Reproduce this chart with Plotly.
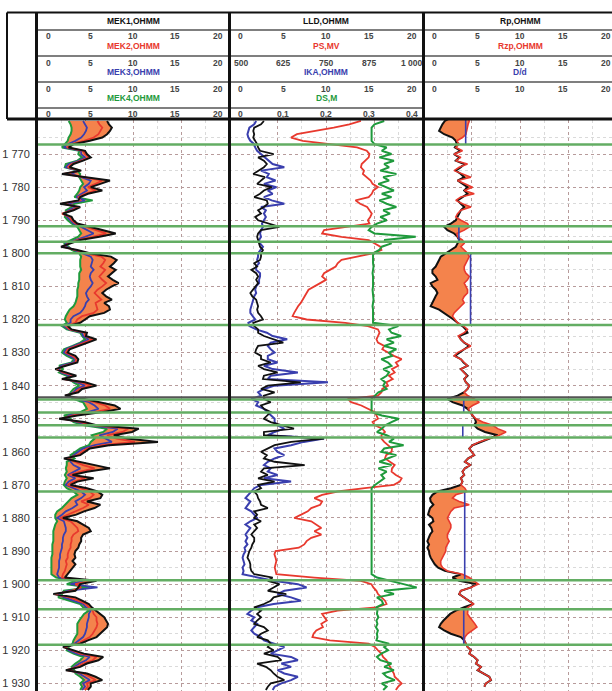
import plotly.graph_objects as go

W, H = 612, 691

# ---------------- DATA ----------------
depth = list(range(1760, 1933))          # tracks 1 and 2, 1 m step
depth_t3 = list(range(1759, 1932))       # track 3 readings

# Track 1 (0-20 OHMM)
mek4 = [3.3, 3.5, 3.6, 3.6, 3.5, 3.3, 3.2, 2.9, 2.6, 4.4,
        4.3, 4.7, 4.2, 3.0, 2.9, 4.2, 4.5, 4.4, 4.6, 4.8,
        4.5, 4.4, 4.2, 3.9, 5.8, 3.9, 3.6, 3.0, 3.0, 2.9,
        3.2, 3.6, 4.2, 4.4, 4.6, 4.3, 3.6, 2.8, 3.3, 3.6,
        4.4, 4.6, 4.5, 4.5, 4.5, 4.6, 4.4, 4.4, 4.4, 4.3,
        4.3, 4.2, 4.2, 4.2, 4.1, 4.0, 3.8, 3.4, 3.2, 3.0,
        2.9, 3.1, 2.6, 3.1, 4.5, 4.7, 5.0, 4.5, 3.7, 2.8,
        2.6, 3.1, 3.8, 3.6, 2.3, 2.7, 2.3, 3.1, 3.4, 3.8,
        4.4, 3.8, 3.5, 3.3, 3.8, 4.8, 5.0, 5.2, 4.5, 2.8,
        3.5, 3.8, 4.9, 7.3, 6.9, 5.7, 6.0, 5.6, 5.4, 4.5,
        4.0, 3.5, 3.9, 3.1, 3.1, 3.0, 3.1, 2.9, 3.1, 2.9,
        2.8, 3.1, 3.8, 4.2, 3.6, 3.3, 3.0, 2.6, 2.1, 1.9,
        1.9, 2.1, 1.9, 1.8, 1.7, 1.7, 1.7, 1.7, 1.6, 1.6,
        1.6, 1.6, 1.5, 1.5, 1.5, 1.5, 1.5, 1.5, 2.0, 4.0,
        3.1, 5.5, 2.8, 2.6, 2.2, 3.5, 4.5, 4.8, 5.4, 4.9,
        4.6, 4.4, 4.2, 4.2, 4.2, 4.2, 4.0, 3.8, 3.7, 3.3,
        3.1, 3.8, 4.8, 4.5, 4.0, 3.6, 3.9, 4.0, 4.5, 4.9,
        4.5, 4.7, 4.5]
mek3 = [4.8, 5.0, 5.2, 5.1, 4.9, 4.6, 4.0, 3.2, 2.8, 4.6,
        4.6, 5.0, 4.4, 3.3, 3.0, 4.3, 3.6, 4.6, 5.6, 5.4,
        4.9, 5.2, 4.6, 4.1, 5.0, 3.2, 4.0, 3.3, 2.8, 3.1,
        3.4, 3.8, 4.6, 5.3, 5.9, 5.0, 3.9, 3.0, 3.0, 3.8,
        4.7, 5.6, 5.8, 5.7, 5.6, 5.9, 5.6, 5.5, 5.6, 5.8,
        5.6, 5.3, 5.1, 5.2, 5.4, 5.1, 5.0, 4.8, 4.5, 3.8,
        3.5, 3.5, 2.8, 3.3, 4.7, 4.8, 5.4, 4.7, 3.9, 3.0,
        2.8, 3.4, 4.0, 3.8, 2.5, 2.3, 2.5, 3.4, 3.0, 4.2,
        5.0, 4.1, 3.8, 3.1, 4.1, 5.4, 6.0, 6.4, 5.3, 3.3,
        3.0, 4.2, 5.4, 8.4, 7.9, 6.5, 7.2, 7.8, 6.0, 4.8,
        4.3, 3.8, 3.4, 3.5, 3.8, 4.5, 3.8, 3.2, 4.0, 3.3,
        3.0, 3.8, 4.6, 5.0, 4.6, 4.0, 4.2, 3.7, 3.0, 2.6,
        2.1, 2.8, 2.9, 3.0, 3.0, 2.8, 2.7, 2.7, 2.6, 2.6,
        2.5, 2.4, 2.4, 2.3, 2.3, 2.3, 2.2, 2.1, 2.3, 4.8,
        3.5, 6.3, 3.2, 2.2, 2.8, 3.9, 4.8, 5.1, 5.6, 5.4,
        5.4, 5.3, 5.2, 5.2, 5.1, 5.0, 4.8, 4.3, 3.9, 3.0,
        3.3, 4.1, 5.5, 5.1, 4.4, 3.9, 3.4, 4.4, 5.0, 5.5,
        4.8, 5.0, 4.7]
mek2 = [6.3, 6.5, 6.8, 6.6, 6.4, 5.9, 4.9, 3.6, 3.1, 4.8,
        5.0, 5.4, 4.6, 3.6, 3.2, 4.5, 2.8, 4.9, 6.8, 6.1,
        5.3, 6.1, 5.0, 4.3, 4.5, 2.6, 4.3, 3.6, 2.6, 3.4,
        3.6, 4.0, 5.0, 6.2, 7.2, 5.8, 4.2, 3.3, 2.7, 4.0,
        5.1, 6.7, 7.1, 6.9, 6.6, 7.1, 6.8, 6.5, 6.8, 7.2,
        6.8, 6.3, 6.0, 6.3, 6.7, 6.1, 6.2, 6.3, 5.9, 4.7,
        4.2, 4.0, 3.0, 3.4, 5.0, 5.0, 5.8, 5.0, 4.2, 3.2,
        3.0, 3.7, 4.1, 4.0, 2.8, 2.1, 2.7, 3.8, 2.8, 4.6,
        5.6, 4.4, 4.0, 3.0, 4.5, 6.0, 7.1, 7.6, 6.0, 3.7,
        2.6, 4.5, 5.9, 9.5, 8.9, 7.3, 8.3, 10.2, 6.8, 5.2,
        4.7, 4.2, 3.1, 4.0, 4.8, 6.0, 4.5, 3.4, 5.0, 3.8,
        3.2, 4.5, 5.5, 5.9, 5.5, 4.6, 5.4, 4.8, 4.0, 3.3,
        2.4, 3.5, 3.9, 4.2, 4.3, 3.8, 3.6, 3.6, 3.5, 3.5,
        3.3, 3.2, 3.2, 3.0, 3.1, 3.0, 2.9, 2.7, 2.6, 5.5,
        4.0, 4.6, 3.6, 1.9, 3.4, 4.3, 5.1, 5.4, 5.8, 5.9,
        6.2, 6.2, 6.3, 6.2, 6.0, 5.8, 5.5, 4.8, 4.2, 2.8,
        3.6, 4.5, 6.2, 5.8, 4.8, 4.2, 3.1, 4.8, 5.5, 6.1,
        5.2, 5.3, 5.0]
mek1 = [7.3, 7.5, 7.8, 7.6, 7.3, 6.8, 5.5, 3.8, 3.3, 5.0,
        5.2, 5.6, 4.8, 3.8, 3.4, 4.6, 2.6, 5.2, 7.6, 6.6,
        5.6, 6.8, 5.3, 4.5, 4.3, 2.4, 4.5, 3.8, 2.7, 3.6,
        3.8, 4.2, 5.5, 7.0, 8.2, 6.5, 4.5, 3.5, 2.5, 4.2,
        5.5, 7.7, 8.3, 8.0, 7.6, 8.2, 7.8, 7.4, 7.9, 8.5,
        7.8, 7.2, 6.8, 7.2, 7.8, 7.0, 7.5, 7.6, 7.0, 5.5,
        5.0, 4.5, 3.2, 3.6, 5.2, 5.1, 6.2, 5.2, 4.4, 3.4,
        3.2, 4.0, 4.3, 4.2, 3.0, 1.9, 3.0, 4.1, 2.6, 5.0,
        6.2, 4.7, 4.3, 2.9, 4.9, 6.6, 8.1, 8.7, 6.8, 4.2,
        2.3, 4.9, 6.3, 10.6, 9.9, 8.0, 9.4, 12.6, 7.5, 5.5,
        5.0, 4.5, 2.8, 4.5, 5.9, 7.6, 5.2, 3.7, 5.9, 4.2,
        3.5, 5.2, 6.3, 6.8, 6.6, 5.2, 6.6, 6.0, 4.9, 4.1,
        2.7, 4.2, 4.8, 5.4, 5.6, 4.8, 4.6, 4.6, 4.4, 4.3,
        4.0, 3.9, 4.0, 3.7, 4.0, 3.7, 3.5, 3.2, 2.9, 6.2,
        4.5, 4.3, 4.0, 1.7, 4.0, 4.7, 5.4, 5.7, 6.1, 6.5,
        7.0, 7.2, 7.4, 7.3, 6.9, 6.5, 6.2, 5.3, 4.5, 2.7,
        3.8, 4.9, 6.9, 6.4, 5.2, 4.5, 3.0, 5.2, 6.1, 6.8,
        5.6, 5.6, 5.3]

# Track 2
lld = [3.6, 3.3, 2.6, 2.5, 2.6, 2.5, 2.7, 2.9, 3.0, 3.2,
       4.6, 3.0, 3.6, 3.9, 3.6, 3.0, 2.5, 3.7, 3.3, 2.9,
       4.4, 3.6, 3.2, 2.6, 3.9, 4.0, 3.6, 3.0, 3.3, 2.7,
       3.0, 4.2, 5.2, 3.3, 3.0, 2.9, 3.0, 3.1, 3.2, 3.5,
       3.3, 3.3, 3.2, 2.6, 2.9, 2.3, 2.8, 3.0, 2.8, 3.0,
       2.7, 2.4, 2.2, 2.4, 2.8, 2.9, 3.0, 2.9, 3.0, 3.3,
       3.5, 2.5, 2.6, 3.0, 3.0, 3.6, 4.7, 5.6, 3.0, 2.8,
       2.7, 3.3, 3.3, 4.3, 3.0, 3.6, 5.0, 3.6, 3.5, 7.4,
       4.0, 3.3, 4.7, 3.6, 3.6, 4.3, 3.3, 3.6, 4.3, 4.0,
       3.6, 4.3, 5.6, 6.7, 3.6, 3.6, 9.8, 6.4, 4.7, 4.0,
       3.3, 3.9, 3.6, 4.7, 7.8, 3.6, 3.3, 4.0, 3.0, 4.7,
       3.0, 3.3, 2.6, 2.9, 3.0, 3.2, 3.3, 4.0, 2.6, 2.9,
       2.6, 3.3, 2.6, 2.9, 2.6, 2.3, 2.6, 2.6, 2.4, 2.3,
       2.1, 2.0, 1.9, 2.1, 2.2, 2.2, 2.3, 2.6, 4.5, 4.0,
       5.2, 4.6, 4.0, 5.9, 4.6, 4.3, 3.6, 2.6, 3.3, 2.9,
       3.3, 2.9, 2.6, 3.6, 4.0, 3.3, 2.9, 4.0, 4.3, 4.0,
       4.6, 3.6, 5.0, 5.4, 2.9, 3.8, 4.3, 4.6, 5.0, 5.7,
       4.3, 4.0, 3.8]
ika = [2.8, 2.6, 2.1, 2.0, 1.9, 2.0, 2.2, 2.6, 2.7, 2.9,
       3.3, 3.8, 4.1, 4.5, 5.7, 3.3, 4.1, 3.9, 4.8, 3.6,
       4.9, 4.0, 4.5, 3.6, 4.4, 5.7, 3.3, 3.8, 3.6, 3.8,
       3.6, 3.4, 3.5, 3.3, 3.2, 3.3, 3.1, 3.2, 3.5, 3.2,
       3.0, 3.0, 2.9, 3.1, 2.8, 2.8, 3.2, 3.2, 3.1, 3.1,
       2.8, 2.7, 2.8, 2.6, 2.5, 2.4, 2.3, 2.2, 2.2, 2.5,
       2.7, 2.0, 2.1, 2.8, 3.9, 4.5, 6.0, 4.3, 4.0, 4.3,
       4.7, 4.0, 4.0, 5.0, 3.6, 4.5, 7.1, 4.3, 4.0, 10.2,
       4.7, 3.6, 3.0, 3.3, 2.3, 3.0, 2.8, 3.6, 4.0, 4.3,
       4.7, 4.7, 5.0, 5.7, 4.7, 4.0, 9.8, 7.7, 6.4, 4.7,
       5.0, 5.7, 4.7, 4.0, 3.6, 4.3, 4.0, 5.0, 3.6, 6.4,
       3.3, 2.6, 2.3, 1.9, 1.7, 2.2, 1.9, 1.7, 2.3, 2.6,
       2.9, 2.2, 1.7, 2.2, 1.9, 1.7, 1.9, 1.7, 1.9, 1.6,
       1.7, 1.5, 1.4, 1.5, 1.6, 1.4, 1.5, 1.4, 2.9, 4.6,
       7.1, 8.0, 5.7, 5.0, 6.4, 7.4, 4.6, 2.9, 2.3, 1.9,
       2.6, 2.3, 2.9, 2.6, 2.3, 2.6, 3.3, 3.6, 4.7, 5.7,
       5.0, 4.3, 6.4, 7.1, 5.4, 6.4, 5.0, 5.7, 7.1, 6.4,
       5.4, 4.7, 4.5]
ps = [840, 810, 770, 720, 675, 660, 690, 760, 830, 855,
      862, 860, 850, 842, 840, 848, 845, 855, 865, 870,
      884, 872, 868, 860, 826, 838, 856, 862, 868, 864,
      858, 862, 800, 745, 740, 790, 860, 875, 890, 893,
      870, 830, 790, 780, 775, 760, 745, 740, 750, 735,
      720, 705, 700, 695, 692, 685, 678, 672, 668, 664,
      700, 800, 858, 884, 888, 884, 880, 884, 900, 895,
      910, 925, 945, 930, 936, 920, 927, 912, 922, 905,
      910, 895, 893, 884, 806, 815, 841, 858, 876, 880,
      884, 870, 876, 895, 902, 893, 893, 900, 910, 920,
      919, 905, 902, 915, 927, 920, 919, 930, 945, 940,
      925, 850, 780, 740, 720, 740, 735, 712, 703, 686,
      668, 712, 725, 738, 720, 738, 712, 700, 694, 680,
      620, 617, 620, 622, 620, 618, 620, 622, 720, 840,
      867, 872, 880, 884, 893, 902, 906, 880, 780, 740,
      746, 752, 738, 742, 725, 718, 715, 760, 860, 876,
      884, 893, 897, 906, 910, 915, 919, 925, 927, 936,
      945, 936, 930]
ds = [0.320, 0.300, 0.294, 0.294, 0.294, 0.294, 0.294, 0.300, 0.325, 0.315,
      0.335, 0.310, 0.340, 0.320, 0.330, 0.312, 0.345, 0.318, 0.330, 0.308,
      0.325, 0.340, 0.315, 0.335, 0.310, 0.325, 0.345, 0.318, 0.332, 0.312,
      0.325, 0.305, 0.294, 0.288, 0.300, 0.385, 0.320, 0.335, 0.315, 0.310,
      0.297, 0.297, 0.296, 0.297, 0.298, 0.297, 0.296, 0.297, 0.297, 0.298,
      0.297, 0.296, 0.297, 0.297, 0.298, 0.297, 0.296, 0.297, 0.297, 0.297,
      0.297, 0.297, 0.349, 0.330, 0.335, 0.355, 0.325, 0.340, 0.320, 0.345,
      0.330, 0.336, 0.314, 0.328, 0.335, 0.318, 0.330, 0.325, 0.314, 0.322,
      0.318, 0.325, 0.308, 0.301, 0.294, 0.294, 0.294, 0.294, 0.294, 0.315,
      0.350, 0.335, 0.322, 0.315, 0.305, 0.325, 0.340, 0.330, 0.360, 0.320,
      0.314, 0.345, 0.328, 0.310, 0.335, 0.308, 0.325, 0.314, 0.320, 0.310,
      0.301, 0.294, 0.294, 0.294, 0.294, 0.294, 0.294, 0.294, 0.294, 0.294,
      0.294, 0.294, 0.294, 0.294, 0.294, 0.294, 0.294, 0.294, 0.294, 0.294,
      0.294, 0.294, 0.294, 0.294, 0.294, 0.294, 0.294, 0.294, 0.305, 0.335,
      0.360, 0.387, 0.320, 0.340, 0.305, 0.315, 0.318, 0.304, 0.306, 0.305,
      0.308, 0.304, 0.306, 0.303, 0.307, 0.305, 0.306, 0.304, 0.330, 0.320,
      0.328, 0.314, 0.305, 0.312, 0.335, 0.320, 0.340, 0.318, 0.325, 0.342,
      0.315, 0.325, 0.318]

# Track 3
rp = [2.87, 2.25, 2.00, 1.83, 1.66, 2.18, 3.04, 3.38, 3.49, 3.28,
      3.90, 3.21, 3.73, 3.38, 4.25, 3.90, 3.38, 3.90, 4.25, 3.56,
      4.07, 4.59, 4.25, 4.59, 4.07, 3.56, 3.90, 4.25, 3.90, 3.73,
      3.56, 3.38, 2.87, 2.18, 2.52, 3.21, 3.56, 3.73, 3.56, 3.38,
      2.87, 2.35, 1.83, 1.66, 1.49, 1.31, 0.97, 0.97, 1.31, 1.49,
      0.79, 0.97, 1.31, 1.49, 1.30, 1.14, 0.97, 0.79, 1.66, 2.18,
      2.70, 3.14, 3.56, 4.07, 4.42, 4.59, 3.73, 3.90, 4.25, 4.77,
      4.25, 3.73, 3.28, 3.90, 4.18, 4.59, 3.90, 4.25, 4.59, 4.25,
      4.42, 4.77, 4.59, 4.25, 3.56, 2.52, 3.04, 4.07, 4.59, 4.87,
      5.11, 5.35, 5.46, 5.28, 5.63, 6.39, 7.70, 6.84, 5.80, 5.11,
      4.77, 5.01, 5.28, 4.65, 4.32, 4.87, 4.32, 4.07, 4.25, 3.90,
      4.07, 3.90, 2.87, 1.49, 0.97, 0.73, 0.79, 1.07, 0.73, 0.62,
      0.52, 0.97, 1.07, 0.62, 0.86, 0.97, 0.73, 0.59, 0.45, 0.62,
      0.45, 0.62, 0.66, 0.79, 0.97, 1.21, 1.56, 2.25, 3.90, 3.04,
      3.73, 5.46, 4.94, 3.90, 3.73, 4.25, 4.77, 5.21, 4.25, 3.38,
      2.80, 2.42, 2.11, 1.83, 1.66, 2.18, 2.87, 3.90, 4.25, 4.42,
      4.59, 4.94, 4.77, 5.28, 5.63, 5.46, 5.98, 5.63, 6.32, 6.84,
      7.01, 6.49, 6.32]
rzp = [4.59, 4.77, 4.65, 4.59, 4.52, 4.42, 4.07, 3.49, 3.73, 3.38,
       4.07, 3.21, 3.90, 3.38, 4.59, 3.73, 3.21, 4.07, 4.94, 3.56,
       4.25, 5.11, 4.25, 5.28, 3.90, 3.38, 4.07, 4.94, 3.90, 3.56,
       3.38, 3.90, 4.59, 4.77, 4.25, 3.49, 3.56, 4.07, 4.25, 3.90,
       4.25, 4.59, 4.77, 4.59, 4.42, 4.25, 4.25, 4.42, 4.77, 4.59,
       4.25, 4.42, 4.59, 4.59, 4.25, 4.07, 4.25, 3.90, 3.56, 3.21,
       3.04, 3.28, 3.56, 4.18, 4.59, 4.25, 3.63, 3.90, 4.25, 4.94,
       4.25, 3.56, 3.21, 3.90, 4.25, 4.59, 3.90, 4.25, 4.52, 4.25,
       4.42, 4.77, 4.59, 4.25, 4.59, 5.28, 5.80, 5.11, 4.65, 4.87,
       5.11, 5.46, 6.15, 7.18, 7.70, 8.56, 7.87, 6.84, 5.80, 5.11,
       4.77, 5.01, 5.28, 4.65, 4.32, 4.87, 4.32, 4.07, 4.25, 3.90,
       4.07, 3.90, 4.32, 4.52, 3.38, 3.04, 3.73, 4.77, 3.21, 2.87,
       2.70, 2.52, 2.70, 2.87, 2.87, 2.70, 2.52, 2.52, 2.70, 2.52,
       2.35, 2.35, 2.18, 2.01, 1.83, 1.83, 2.01, 2.52, 4.07, 4.77,
       5.28, 5.70, 4.94, 3.90, 3.73, 4.25, 4.77, 5.21, 4.65, 4.59,
       4.59, 4.83, 5.11, 5.35, 5.56, 5.01, 4.59, 4.32, 4.25, 4.42,
       4.59, 4.94, 4.77, 5.28, 5.63, 5.46, 5.98, 5.63, 6.32, 6.84,
       7.01, 6.49, 6.32]
dd_top = [1759.7, 1791.8, 1800.0, 1844.2, 1852.0, 1872.0, 1907.6]
dd_base = [1767.1, 1796.5, 1821.7, 1848.1, 1855.7, 1898.8, 1918.3]
dd_value = [4.4, 3.7, 4.9, 4.2, 4.1, 4.3, 4.2]

# formation boundaries
boundaries = [1767.1, 1791.8, 1796.5, 1800.0, 1821.7, 1844.2, 1848.1,
              1852.0, 1855.7, 1872.0, 1898.8, 1907.6, 1918.3]
dark_boundaries = [1843.5]

depth_ticks = [1770, 1780, 1790, 1800, 1810, 1820, 1830, 1840, 1850,
               1860, 1870, 1880, 1890, 1900, 1910, 1920, 1930]
scale_0_20 = ["0", "5", "10", "15", "20"]
scale_ps = ["500", "625", "750", "875", "1 000"]
scale_ds = ["0", "0,1", "0,2", "0,3", "0,4"]

# ---------------- STYLE ----------------
BLACK = "#111111"
RED = "#e8392e"
BLUE = "#3a3fae"
GREEN = "#1f9a3c"
ORANGE = "#f4834c"
BOUND = "#63ad63"
DOT = "#b79b9b"
MINOR = "#dadada"
FONT = "Liberation Sans"

T_TOP = 120  # px, top of log area
tracks = [(37, 229), (229, 423), (423, 617)]


def px(x):
    return x / W


def py(y):
    return 1 - y / H


fig = go.Figure()


def line(x, y, xa, color, width):
    fig.add_trace(go.Scatter(x=x, y=y, xaxis=xa, yaxis="y", mode="lines",
                             line=dict(color=color, width=width),
                             showlegend=False, hoverinfo="skip"))


def fill_pair(xl, xr, y, xa):
    fig.add_trace(go.Scatter(x=xl, y=y, xaxis=xa, yaxis="y", mode="lines",
                             line=dict(width=0, color="rgba(0,0,0,0)"),
                             showlegend=False, hoverinfo="skip"))
    fig.add_trace(go.Scatter(x=xr, y=y, xaxis=xa, yaxis="y", mode="lines",
                             line=dict(width=0, color="rgba(0,0,0,0)"),
                             fill="tonextx", fillcolor=ORANGE,
                             showlegend=False, hoverinfo="skip"))


# Track 1
fill_pair(mek4, mek1, depth, "x")
line(mek4, depth, "x", GREEN, 2)
line(mek3, depth, "x", BLUE, 1.8)
line(mek2, depth, "x", RED, 1.8)
line(mek1, depth, "x", BLACK, 2)

# Track 2
line(ika, depth, "x2", BLUE, 2)
line(lld, depth, "x2", BLACK, 1.8)
line(ps, depth, "x4", RED, 1.8)
line(ds, depth, "x5", GREEN, 2)

# Track 3
fill_pair(rp, rzp, depth_t3, "x3")
line(rp, depth_t3, "x3", BLACK, 2)
line(rzp, depth_t3, "x3", RED, 1.6)
dd_x, dd_y = [], []
for t, b, v in zip(dd_top, dd_base, dd_value):
    dd_x += [v, v, None]
    dd_y += [t, b, None]
line(dd_x, dd_y, "x3", BLUE, 1.6)

grid_x = dict(showticklabels=False, ticks="", showline=False, zeroline=False,
              tick0=0, dtick=5, showgrid=True, gridcolor=DOT, griddash="dot",
              gridwidth=1,
              minor=dict(tick0=0, dtick=2.5, showgrid=True, gridcolor=MINOR,
                         gridwidth=1))

ydom = [0, py(T_TOP)]
fig.update_layout(
    width=W, height=H, margin=dict(l=0, r=0, t=0, b=0),
    paper_bgcolor="white", plot_bgcolor="white",
    separators=", ", showlegend=False,
    xaxis=dict(domain=[px(37), px(229)], range=[0, 20], anchor="y", **grid_x),
    xaxis2=dict(domain=[px(229), px(423)], range=[0, 20], anchor="y", **grid_x),
    xaxis3=dict(domain=[px(423), 1.0],
                range=[0, 20 * (W - 423) / (617 - 423)], anchor="y", **grid_x),
    xaxis4=dict(overlaying="x2", range=[500, 1000], visible=False, anchor="y"),
    xaxis5=dict(overlaying="x2", range=[0, 0.4], visible=False, anchor="y"),
    yaxis=dict(domain=ydom, range=[1932.3, 1759.7], anchor="x",
               tickvals=depth_ticks, tickformat=",d",
               ticks="outside", ticklen=4, tickcolor="rgba(0,0,0,0)",
               tickfont=dict(family=FONT, size=11, color="#333"),
               showline=False, zeroline=False, automargin=False,
               showgrid=True, gridcolor=DOT, griddash="dot", gridwidth=1,
               minor=dict(tick0=1765, dtick=10, showgrid=True,
                          gridcolor=MINOR, gridwidth=1)),
)

shapes = []
for d in boundaries:
    shapes.append(dict(type="line", xref="paper", yref="y", x0=px(37), x1=1,
                       y0=d, y1=d, line=dict(color=BOUND, width=2.5),
                       layer="above"))
for d in dark_boundaries:
    shapes.append(dict(type="line", xref="paper", yref="y", x0=px(37), x1=1,
                       y0=d, y1=d, line=dict(color="#555", width=2),
                       layer="above"))


def hline(x0, x1, y, color, width):
    shapes.append(dict(type="line", xref="paper", yref="paper", x0=px(x0),
                       x1=px(x1), y0=py(y), y1=py(y),
                       line=dict(color=color, width=width), layer="above"))


def vline(x, y0, y1, color, width):
    shapes.append(dict(type="line", xref="paper", yref="paper", x0=px(x),
                       x1=px(x), y0=py(y0), y1=py(y1),
                       line=dict(color=color, width=width), layer="above"))


hline(7, 612, 12.5, BLACK, 2)
for yy in [30, 56, 82, 108]:
    hline(37, 423, yy, "#555", 1.5)
for yy in [30, 56, 82]:
    hline(423, 612, yy, "#555", 1.5)
hline(7, 612, 119, BLACK, 3)
vline(7, 12.5, 119, BLACK, 2)
vline(36.5, 12.5, H, BLACK, 3)
vline(229.5, 12.5, H, BLACK, 3)
vline(423.5, 12.5, H, BLACK, 3)

fig.update_layout(shapes=shapes)

ann = []


def text(x, y, s, color="#222", size=9, bold=False):
    ann.append(dict(x=px(x), y=py(y), xref="paper", yref="paper", text=s,
                    showarrow=False, xanchor="center", yanchor="middle",
                    font=dict(family=FONT, size=size, color=color,
                              weight="bold" if bold else "normal")))


headers = [
    [("MEK1,OHMM", BLACK, scale_0_20), ("MEK2,OHMM", RED, scale_0_20),
     ("MEK3,OHMM", BLUE, scale_0_20), ("MEK4,OHMM", GREEN, scale_0_20)],
    [("LLD,OHMM", BLACK, scale_0_20), ("PS,MV", RED, scale_ps),
     ("IKA,OHMM", BLUE, scale_0_20), ("DS,M", GREEN, scale_ds)],
    [("Rp,OHMM", BLACK, scale_0_20), ("Rzp,OHMM", RED, scale_0_20),
     ("D/d", BLUE, scale_0_20)],
]
title_y = [21, 46.5, 72, 98]
scale_y = [36.5, 62.5, 88.5, 113.5]
for (l, r), items in zip(tracks, headers):
    cx = (l + r) / 2
    step = (r - l - 23) / 4
    for i, (name, col, sc) in enumerate(items):
        text(cx, title_y[i], name, col, 8.5, True)
        for k, lab in enumerate(sc):
            text(l + 11.5 + k * step, scale_y[i], lab, "#444", 8.5, True)

fig.update_layout(annotations=ann)
fig.write_html("out.html",
               config={"displayModeBar": False, "staticPlot": True},
               post_script="document.body.style.margin='0';"
                           "document.body.style.padding='0';")
